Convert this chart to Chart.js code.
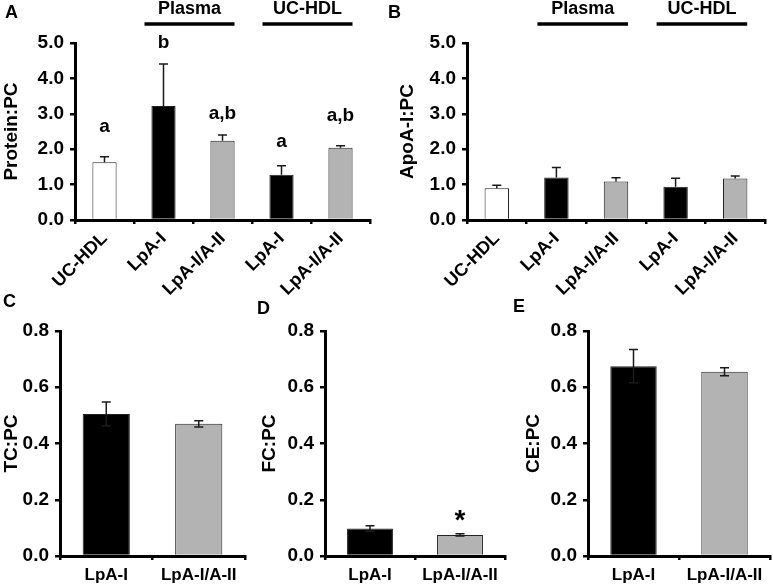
<!DOCTYPE html>
<html>
<head>
<meta charset="utf-8">
<script src="https://cdn.jsdelivr.net/npm/chart.js@4.4.1/dist/chart.umd.min.js"></script>
<style>
  body { margin: 0; background: #fff; }
  #wrap { position: relative; width: 773px; height: 586px; font-family: "Liberation Sans", Arial, sans-serif; }
  canvas { position: absolute; }
  .plabel { position: absolute; font-weight: bold; font-size: 18px; }
</style>
</head>
<body>
<div id="wrap">
  <canvas id="cA" width="385" height="300" style="left:0;top:0"></canvas>
  <canvas id="cB" width="377" height="300" style="left:396px;top:0"></canvas>
  <canvas id="cC" width="255" height="296" style="left:0;top:290px"></canvas>
  <canvas id="cD" width="252" height="296" style="left:258px;top:290px"></canvas>
  <canvas id="cE" width="251" height="296" style="left:522px;top:290px"></canvas>
  <div class="plabel" style="left:5px;top:2px">A</div>
  <div class="plabel" style="left:388px;top:2px">B</div>
  <div class="plabel" style="left:3px;top:291px">C</div>
  <div class="plabel" style="left:257px;top:298px">D</div>
  <div class="plabel" style="left:513px;top:296px">E</div>
</div>
<script>
// top row categories
const topLabels = ["UC-HDL", "LpA-I", "LpA-I/A-II", "LpA-I", "LpA-I/A-II"];
const topColors = ["#ffffff", "#000000", "#b3b3b3", "#000000", "#b3b3b3"];
const groups = [
  { name: "Plasma", from: 1, to: 2 },
  { name: "UC-HDL", from: 3, to: 4 },
];
// panel A
const proteinPC = [1.63, 3.22, 2.24, 1.28, 2.04];
const proteinErr = [0.16, 1.19, 0.16, 0.25, 0.06];
const proteinLetters = ["a", "b", "a,b", "a", "a,b"];
const proteinLetterY = [2.64, 5.0, 3.0, 2.2, 2.95];
// panel B
const apoPC = [0.9, 1.2, 1.09, 0.94, 1.17];
const apoErr = [0.08, 0.28, 0.1, 0.24, 0.07];
const topTicks = [0, 1, 2, 3, 4, 5];

// bottom row
const bottomLabels = ["LpA-I", "LpA-I/A-II"];
const bottomColors = ["#000000", "#b3b3b3"];
const tcPC = [0.505, 0.47];
const tcErr = [0.043, 0.011];
const fcPC = [0.098, 0.075];
const fcErr = [0.01, 0.004];
const fcStar = ["", "*"];
const fcStarY = [0, 0.125];
const cePC = [0.675, 0.655];
const ceErr = [0.059, 0.014];
const bottomTicks = [0, 0.2, 0.4, 0.6, 0.8];

const FONT = "'Liberation Sans', Arial, sans-serif";

const errorBars = {
  id: "errorBars",
  afterDatasetsDraw(chart, args, opts) {
    const ctx = chart.ctx;
    const y = chart.scales.y;
    const meta = chart.getDatasetMeta(0);
    const vals = chart.data.datasets[0].data;
    ctx.save();
    ctx.strokeStyle = "#1a1a1a";
    ctx.lineWidth = 1.5;
    meta.data.forEach((bar, i) => {
      const top = y.getPixelForValue(vals[i] + opts.err[i]);
      const bot = opts.twoSided ? y.getPixelForValue(vals[i] - opts.err[i]) : y.getPixelForValue(vals[i]);
      const w = opts.cap / 2;
      ctx.beginPath();
      ctx.moveTo(bar.x, top);
      ctx.lineTo(bar.x, bot);
      ctx.moveTo(bar.x - w, top);
      ctx.lineTo(bar.x + w, top);
      if (opts.twoSided) {
        ctx.moveTo(bar.x - w, bot);
        ctx.lineTo(bar.x + w, bot);
      }
      ctx.stroke();
    });
    ctx.restore();
  },
};

const notes = {
  id: "notes",
  afterDatasetsDraw(chart, args, opts) {
    if (!opts.text) return;
    const ctx = chart.ctx;
    const x = chart.scales.x, y = chart.scales.y;
    ctx.save();
    ctx.fillStyle = "#000";
    ctx.font = opts.font;
    ctx.textAlign = "center";
    ctx.textBaseline = "middle";
    opts.text.forEach((t, i) => {
      if (t) ctx.fillText(t, x.getPixelForValue(i), y.getPixelForValue(opts.y[i]));
    });
    ctx.restore();
  },
};

const groupBars = {
  id: "groupBars",
  afterDraw(chart, args, opts) {
    if (!opts.groups) return;
    const ctx = chart.ctx;
    const x = chart.scales.x;
    ctx.save();
    ctx.strokeStyle = "#000";
    ctx.lineWidth = 3.5;
    ctx.fillStyle = "#000";
    ctx.font = "bold 18px " + FONT;
    ctx.textAlign = "center";
    ctx.textBaseline = "middle";
    opts.groups.forEach((g) => {
      const a = x.getPixelForValue(g.from) - 19;
      const b = x.getPixelForValue(g.to) + 12;
      ctx.beginPath();
      ctx.moveTo(a, 24);
      ctx.lineTo(b, 24);
      ctx.stroke();
      ctx.fillText(g.name, (a + b) / 2, 9);
    });
    ctx.restore();
  },
};

function makeChart(id, cfg) {
  const rot = cfg.rotate ? 45 : 0;
  return new Chart(document.getElementById(id), {
    type: "bar",
    data: {
      labels: cfg.labels,
      datasets: [{
        data: cfg.values,
        backgroundColor: cfg.colors,
        borderColor: "#222",
        borderWidth: 1,
        borderSkipped: "bottom",
        categoryPercentage: 1,
        barPercentage: cfg.barPct,
      }],
    },
    options: {
      responsive: false,
      animation: false,
      events: [],
      layout: { padding: { top: cfg.padTop, right: cfg.padRight, left: 0, bottom: 0 } },
      plugins: {
        legend: { display: false },
        tooltip: { enabled: false },
        errorBars: { err: cfg.err, twoSided: cfg.twoSided, cap: 9 },
        notes: cfg.notes || {},
        groupBars: { groups: cfg.groups },
      },
      scales: {
        x: {
          offset: true,
          border: { color: "#000", width: 3 },
          grid: { offset: true, drawOnChartArea: false, color: "#000", lineWidth: 2.5, tickLength: 4 },
          ticks: {
            color: "#000",
            font: { family: FONT, size: cfg.rotate ? 18 : 17, weight: "bold" },
            maxRotation: rot,
            minRotation: rot,
            autoSkip: false,
            padding: cfg.rotate ? 4 : 5,
          },
          afterFit: (s) => { s.height = cfg.xH; },
        },
        y: {
          min: cfg.ticks[0],
          max: cfg.ticks[cfg.ticks.length - 1],
          afterBuildTicks: (s) => { s.ticks = cfg.ticks.map((v) => ({ value: v })); },
          border: { color: "#000", width: 3 },
          grid: { drawOnChartArea: false, color: "#000", lineWidth: 2.5, tickLength: 5 },
          ticks: {
            color: "#000",
            padding: 6,
            font: { family: FONT, size: 19, weight: "bold" },
            callback: (v) => Number(v).toFixed(1),
          },
          title: {
            display: true,
            text: cfg.title,
            color: "#000",
            padding: 0,
            font: { family: FONT, size: 19, weight: "bold" },
          },
          afterFit: (s) => { s.width = cfg.yW; },
        },
      },
    },
    plugins: [errorBars, notes, groupBars],
  });
}

makeChart("cA", {
  labels: topLabels, values: proteinPC, colors: topColors, err: proteinErr, twoSided: false,
  ticks: topTicks, title: "Protein:PC", yW: 75, xH: 80, padTop: 43, padRight: 15,
  barPct: 0.41, rotate: true, groups: groups,
  notes: { text: proteinLetters, y: proteinLetterY, font: "bold 19px " + FONT },
});
makeChart("cB", {
  labels: topLabels, values: apoPC, colors: topColors, err: apoErr, twoSided: false,
  ticks: topTicks, title: "ApoA-I:PC", yW: 71, xH: 80, padTop: 43, padRight: 8,
  barPct: 0.41, rotate: true, groups: groups,
});
makeChart("cC", {
  labels: bottomLabels, values: tcPC, colors: bottomColors, err: tcErr, twoSided: true,
  ticks: bottomTicks, title: "TC:PC", yW: 60, xH: 30, padTop: 41, padRight: 10,
  barPct: 0.51, rotate: false,
});
makeChart("cD", {
  labels: bottomLabels, values: fcPC, colors: bottomColors, err: fcErr, twoSided: true,
  ticks: bottomTicks, title: "FC:PC", yW: 67, xH: 30, padTop: 41, padRight: 5,
  barPct: 0.51, rotate: false,
  notes: { text: fcStar, y: fcStarY, font: "bold 28px " + FONT },
});
makeChart("cE", {
  labels: bottomLabels, values: cePC, colors: bottomColors, err: ceErr, twoSided: true,
  ticks: bottomTicks, title: "CE:PC", yW: 66, xH: 30, padTop: 41, padRight: 3,
  barPct: 0.51, rotate: false,
});
</script>
</body>
</html>
